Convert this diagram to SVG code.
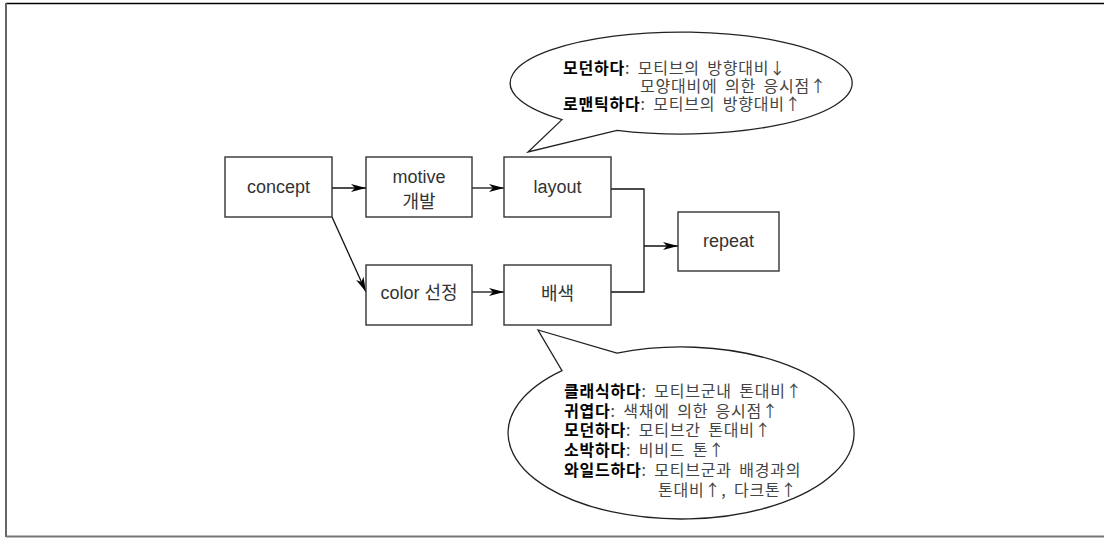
<svg xmlns="http://www.w3.org/2000/svg" width="1104" height="538" viewBox="0 0 1104 538">
<style>
.box{fill:#fff;stroke:#333;stroke-width:1.4}
.lbl{font-family:'Liberation Sans','Noto Sans CJK KR',sans-serif;font-size:18px;fill:#333;text-anchor:middle}
.con{fill:none;stroke:#111;stroke-width:1.3}
.bubble{fill:#fff;stroke:#222;stroke-width:1.3}
.ct{font-family:'Noto Sans CJK KR','Liberation Sans',sans-serif;font-size:16px;fill:#444;letter-spacing:0.8px;word-spacing:3px}
.b{font-weight:bold;fill:#000}
</style>
<defs>
<marker id="ah" markerUnits="userSpaceOnUse" markerWidth="16" markerHeight="10" refX="15" refY="4" orient="auto">
<path d="M0,0 L15,4 L0,8 L4,4 Z" fill="#000"/>
</marker>
</defs>
<rect width="1104" height="538" fill="#fff"/>
<g id="frame">
<line x1="6" y1="3.5" x2="1104" y2="3.5" stroke="#000" stroke-width="1.5"/>
<line x1="6" y1="3" x2="6" y2="537" stroke="#666" stroke-width="2"/>
<line x1="6" y1="536.5" x2="1104" y2="536.5" stroke="#777" stroke-width="2"/>
</g>
<g id="connectors">
<path class="con" d="M332,188 H366" marker-end="url(#ah)"/>
<path class="con" d="M472,188 H504" marker-end="url(#ah)"/>
<path class="con" d="M332,217 L366,292" marker-end="url(#ah)"/>
<path class="con" d="M472,292 H504" marker-end="url(#ah)"/>
<path class="con" d="M611,189 H644 V292 H611"/>
<path class="con" d="M644,246 H678" marker-end="url(#ah)"/>
</g>
<g id="concept">
<rect class="box" x="225" y="157" width="107" height="60"/>
<text class="lbl" x="278.5" y="193">concept</text>
</g>
<g id="motive">
<rect class="box" x="366" y="157" width="106" height="60"/>
<text class="lbl" x="419" y="183">motive</text>
<text class="lbl" x="419" y="208">개발</text>
</g>
<g id="color">
<rect class="box" x="366" y="265" width="106" height="60"/>
<text class="lbl" x="419" y="299">color 선정</text>
</g>
<g id="layout">
<rect class="box" x="504" y="157" width="107" height="60"/>
<text class="lbl" x="557.5" y="193">layout</text>
</g>
<g id="baesaek">
<rect class="box" x="504" y="265" width="107" height="60"/>
<text class="lbl" x="557.5" y="300">배색</text>
</g>
<g id="repeat">
<rect class="box" x="678" y="212" width="101" height="59"/>
<text class="lbl" x="728.5" y="247">repeat</text>
</g>
<g id="callout-top">
<path class="bubble" d="M562,119.6 L528,152 L617,130.3 A171 51 0 1 0 562,119.6 Z"/>
<text class="ct" x="563" y="74"><tspan class="b">모던하다</tspan>: 모티브의 방향대비↓</text>
<text class="ct" x="640" y="92">모양대비에 의한 응시점↑</text>
<text class="ct" x="563" y="110"><tspan class="b">로맨틱하다</tspan>: 모티브의 방향대비↑</text>
</g>
<g id="callout-bottom">
<path class="bubble" d="M617,353.1 L538,330 L562,370.6 A173 86 0 1 0 617,353.1 Z"/>
<text class="ct" x="564" y="397"><tspan class="b">클래식하다</tspan>: 모티브군내 톤대비↑</text>
<text class="ct" x="564" y="417"><tspan class="b">귀엽다</tspan>: 색채에 의한 응시점↑</text>
<text class="ct" x="564" y="436"><tspan class="b">모던하다</tspan>: 모티브간 톤대비↑</text>
<text class="ct" x="564" y="456"><tspan class="b">소박하다</tspan>: 비비드 톤↑</text>
<text class="ct" x="564" y="476"><tspan class="b">와일드하다</tspan>: 모티브군과 배경과의</text>
<text class="ct" x="658" y="496">톤대비↑, 다크톤↑</text>
</g>
</svg>
